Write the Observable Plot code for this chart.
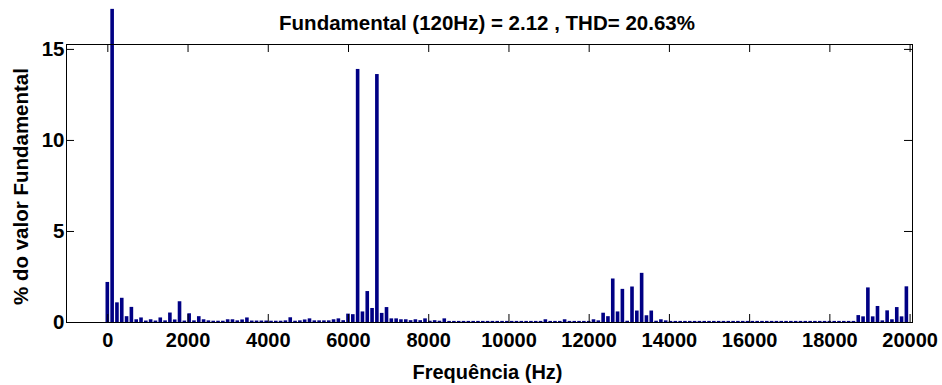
<!DOCTYPE html>
<html>
<head>
<meta charset="utf-8">
<script src="https://cdn.jsdelivr.net/npm/d3@7"></script>
<script src="https://cdn.jsdelivr.net/npm/@observablehq/plot@0.6"></script>
<style>
  html, body { margin: 0; padding: 0; background: #fff; }
  #chart svg { display: block; }
</style>
</head>
<body>
<div id="chart"></div>
<script>
// Harmonic bins: 0 Hz (DC) and multiples of 120 Hz up to 19920 Hz
const binStep = 120;
const frequencies = d3.range(0, 20000, binStep);

// Amplitude (% of fundamental) per bin
const amplitudes = [
  2.2, 17.2, 1.08, 1.33, 0.32, 0.83, 0.15, 0.25, 0.08, 0.15,
  0.08, 0.25, 0.09, 0.52, 0.14, 1.14, 0.08, 0.48, 0.09, 0.32,
  0.15, 0.09, 0.07, 0.07, 0.07, 0.15, 0.15, 0.09, 0.14, 0.25,
  0.08, 0.08, 0.08, 0.08, 0.07, 0.07, 0.07, 0.09, 0.26, 0.07,
  0.09, 0.14, 0.2, 0.09, 0.09, 0.09, 0.09, 0.15, 0.2, 0.1,
  0.46, 0.43, 13.9, 0.58, 1.7, 0.77, 13.62, 0.5, 0.82, 0.2,
  0.2, 0.15, 0.15, 0.1, 0.15, 0.1, 0.2, 0.07, 0.1, 0.07,
  0.2, 0.06, 0.06, 0.06, 0.06, 0.06, 0.06, 0.06, 0.06, 0.06,
  0.06, 0.06, 0.06, 0.06, 0.06, 0.06, 0.06, 0.06, 0.06, 0.06,
  0.06, 0.15, 0.06, 0.06, 0.06, 0.15, 0.06, 0.06, 0.06, 0.06,
  0.06, 0.15, 0.09, 0.51, 0.32, 2.39, 0.58, 1.82, 0.07, 1.95,
  0.63, 2.7, 0.37, 0.63, 0.07, 0.15, 0.09, 0.06, 0.06, 0.06,
  0.06, 0.06, 0.06, 0.06, 0.06, 0.06, 0.06, 0.06, 0.06, 0.06,
  0.06, 0.06, 0.06, 0.06, 0.06, 0.06, 0.06, 0.06, 0.06, 0.06,
  0.06, 0.06, 0.06, 0.06, 0.06, 0.06, 0.06, 0.06, 0.06, 0.06,
  0.06, 0.06, 0.06, 0.06, 0.06, 0.06, 0.38, 0.31, 1.9, 0.31,
  0.88, 0.09, 0.64, 0.15, 0.82, 0.31, 1.96
];

const xTicks = [0, 2000, 4000, 6000, 8000, 10000, 12000, 14000, 16000, 18000, 20000];
const yTicks = [0, 5, 10, 15];

const titleText = "Fundamental (120Hz) = 2.12 , THD= 20.63%";
const xLabel = "Frequência (Hz)";
const yLabel = "% do valor Fundamental";

const data = frequencies.map((f, i) => ({f, v: amplitudes[i]}));

const W = 942, H = 385;
const mT = 44, mR = 30, mB = 63, mL = 66;
const xDomain = [-1030, 20060];
const yDomain = [0, 15.27];
const tickPx = 8;
const tickY = tickPx * (yDomain[1] - yDomain[0]) / (H - mT - mB);
const tickX = tickPx * (xDomain[1] - xDomain[0]) / (W - mL - mR);
const halfBar = 45;
const font = "Arial, 'Liberation Sans', Helvetica, sans-serif";
const barColor = "#000084";

const chart = Plot.plot({
  width: W,
  height: H,
  marginTop: mT,
  marginRight: mR,
  marginBottom: mB,
  marginLeft: mL,
  style: {fontFamily: font, background: "#fff", color: "#000", overflow: "visible"},
  x: {domain: xDomain, label: null},
  y: {domain: yDomain, label: null},
  marks: [
    Plot.rectY(data, {x1: d => d.f - halfBar, x2: d => d.f + halfBar, y1: 0, y2: "v", fill: barColor}),
    Plot.frame({stroke: "#000", strokeWidth: 1}),
    // inward ticks on all four sides
    Plot.ruleX(xTicks, {x: d => d, y1: yDomain[0], y2: yDomain[0] + tickY, stroke: "#000"}),
    Plot.ruleX(xTicks, {x: d => d, y1: yDomain[1] - tickY, y2: yDomain[1], stroke: "#000"}),
    Plot.ruleY(yTicks, {y: d => d, x1: xDomain[0], x2: xDomain[0] + tickX, stroke: "#000"}),
    Plot.ruleY(yTicks, {y: d => d, x1: xDomain[1] - tickX, x2: xDomain[1], stroke: "#000"}),
    Plot.axisX({ticks: xTicks, tickSize: 0, tickPadding: 10, tickFormat: "d", fontSize: 20, fontWeight: "bold", label: null}),
    Plot.axisY({ticks: yTicks, tickSize: 0, tickPadding: 2, tickFormat: "d", fontSize: 20.5, fontWeight: "bold", label: null}),
    Plot.text([titleText], {frameAnchor: "top", dy: -15, dx: -2.5, lineAnchor: "bottom", textAnchor: "middle", fontSize: 20.5, fontWeight: "bold"}),
    Plot.text([xLabel], {frameAnchor: "bottom", dy: 56, dx: -2, lineAnchor: "bottom", textAnchor: "middle", fontSize: 20, fontWeight: "bold"}),
    Plot.text([yLabel], {frameAnchor: "left", dx: -39, dy: 3, rotate: -90, lineAnchor: "bottom", textAnchor: "middle", fontSize: 20.5, fontWeight: "bold"})
  ]
});

document.getElementById("chart").appendChild(chart);
</script>
</body>
</html>
